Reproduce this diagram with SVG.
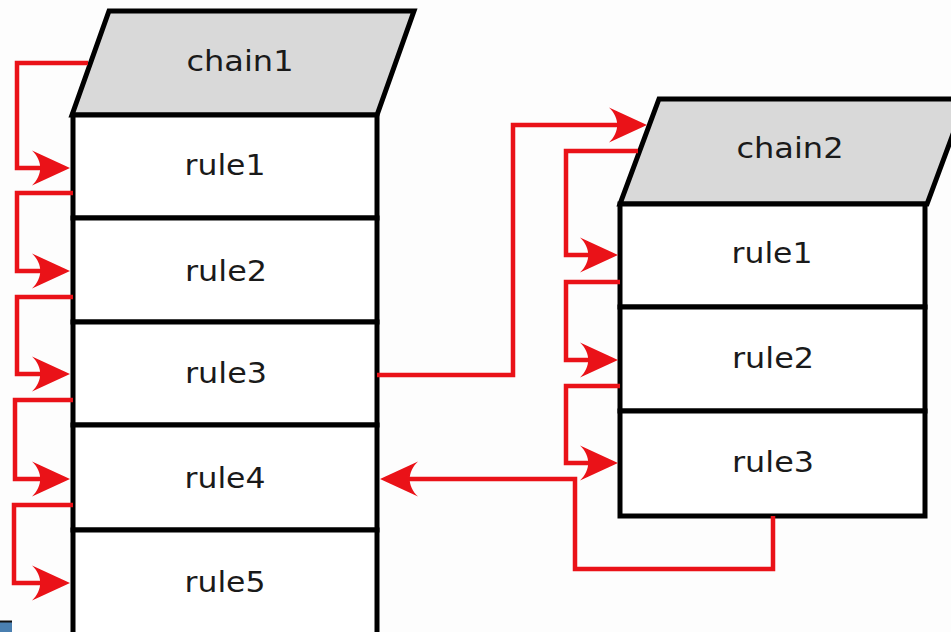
<svg xmlns="http://www.w3.org/2000/svg" width="951" height="632" viewBox="0 0 951 632">
<style>
.box{fill:#ffffff;stroke:#000;stroke-width:5}
.head{fill:#d9d9d9;stroke:#000;stroke-width:5;stroke-linejoin:miter}
.lbl{font-family:"DejaVu Sans",sans-serif;font-size:29px;fill:#1a1a1a;text-anchor:middle}
.conn{fill:none;stroke:#ea1218;stroke-width:4.5;stroke-linejoin:miter}
</style>
<defs>
<marker id="arr" markerUnits="userSpaceOnUse" orient="auto" markerWidth="60" markerHeight="60" refX="0" refY="0" viewBox="-30 -30 60 60" overflow="visible">
<path d="M10,0 L-28,-17.5 C-17,-7 -17,7 -28,17.5 Z" fill="#ea1218"/>
</marker>
</defs>
<rect width="951" height="632" fill="#fdfdfd"/>
<g id="chain1">
<polygon class="head" points="109,11 414,11 377,115 72,115"/>
<text class="lbl" x="240" y="71" textLength="107" lengthAdjust="spacingAndGlyphs">chain1</text>
</g>
<g id="c1-rule1"><rect class="box" x="73" y="115" width="304" height="103"/><text class="lbl" x="225" y="175" textLength="81" lengthAdjust="spacingAndGlyphs">rule1</text></g>
<g id="c1-rule2"><rect class="box" x="73" y="218" width="304" height="104"/><text class="lbl" x="226" y="281" textLength="82" lengthAdjust="spacingAndGlyphs">rule2</text></g>
<g id="c1-rule3"><rect class="box" x="73" y="322" width="304" height="103"/><text class="lbl" x="226" y="383" textLength="82" lengthAdjust="spacingAndGlyphs">rule3</text></g>
<g id="c1-rule4"><rect class="box" x="73" y="425" width="304" height="105"/><text class="lbl" x="225" y="488" textLength="81" lengthAdjust="spacingAndGlyphs">rule4</text></g>
<g id="c1-rule5"><rect class="box" x="73" y="530" width="304" height="120"/><text class="lbl" x="225" y="592" textLength="81" lengthAdjust="spacingAndGlyphs">rule5</text></g>
<g id="chain2">
<polygon class="head" points="659,99 966,99 927,204 620,204"/>
<text class="lbl" x="790" y="158" textLength="107" lengthAdjust="spacingAndGlyphs">chain2</text>
</g>
<g id="c2-rule1"><rect class="box" x="620" y="204" width="305" height="103"/><text class="lbl" x="772" y="263" textLength="81" lengthAdjust="spacingAndGlyphs">rule1</text></g>
<g id="c2-rule2"><rect class="box" x="620" y="307" width="305" height="104"/><text class="lbl" x="773" y="368" textLength="82" lengthAdjust="spacingAndGlyphs">rule2</text></g>
<g id="c2-rule3"><rect class="box" x="620" y="411" width="305" height="105"/><text class="lbl" x="773" y="472" textLength="82" lengthAdjust="spacingAndGlyphs">rule3</text></g>
<g id="connectors">
<path class="conn" marker-end="url(#arr)" d="M88,63 H17 V168 H60"/>
<path class="conn" marker-end="url(#arr)" d="M73,193 H17 V271 H60"/>
<path class="conn" marker-end="url(#arr)" d="M73,297 H17 V374 H60"/>
<path class="conn" marker-end="url(#arr)" d="M73,400 H15 V479 H60"/>
<path class="conn" marker-end="url(#arr)" d="M73,505 H14 V583 H60"/>
<path class="conn" marker-end="url(#arr)" d="M377,375 H513 V125 H637"/>
<path class="conn" marker-end="url(#arr)" d="M638,151 H566 V255 H608"/>
<path class="conn" marker-end="url(#arr)" d="M620,282 H566 V360 H608"/>
<path class="conn" marker-end="url(#arr)" d="M620,386 H566 V463 H608"/>
<path class="conn" marker-end="url(#arr)" d="M773,516 V569 H575 V479 H390"/>
</g>
<rect x="0" y="622" width="12" height="10" fill="#4a7fb0"/>
<line x1="0" y1="621.5" x2="12" y2="621.5" stroke="#111" stroke-width="2"/>
</svg>
